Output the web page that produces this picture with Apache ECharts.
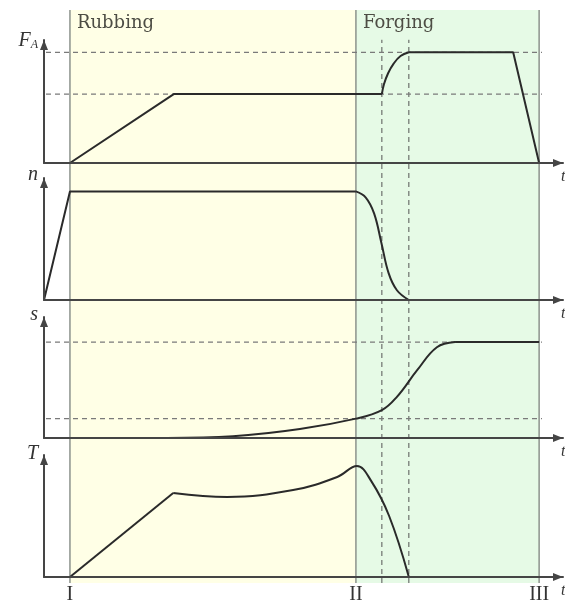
<!DOCTYPE html>
<html><head><meta charset="utf-8">
<script src="https://cdn.jsdelivr.net/npm/echarts@6/dist/echarts.min.js"></script>
<style>html,body{margin:0;padding:0;background:#fff}#c{width:565px;height:606px}</style>
</head><body><div id="c"></div>
<script>
// ---- data ----
const phaseT = [5, 60.1, 95.4];
const phaseLabels = ['I', 'II', 'III'];
const phaseNames = ['Rubbing', 'Forging'];
const markerT = [65.1, 70.3];
const markerTop = 0.948;

// each curve: points (t, value) and index ranges [from, to] drawn as smooth curves
const forceT = [5, 25, 65.1, 65.5, 66.3, 67.4, 68.7, 70.3, 90.4, 95.4];
const forceV = [0, 0.56, 0.56, 0.64, 0.73, 0.81, 0.87, 0.90, 0.90, 0];
const forceLevels = [0.56, 0.90];
const forceSmooth = [[2, 7]];

const speedT = [0, 5, 60.1, 62.0, 63.6, 65.0, 66.4, 68.0, 70.3];
const speedV = [0, 0.89, 0.89, 0.84, 0.71, 0.47, 0.22, 0.08, 0];
const speedSmooth = [[2, 8]];

const slipT = [5, 23.7, 36.4, 49.3, 60.1, 65.1, 68.0, 71.9, 75.7, 79.2, 95.4];
const slipV = [0, 0, 0.014, 0.074, 0.16, 0.23, 0.34, 0.56, 0.75, 0.793, 0.793];
const slipLevels = [0.16, 0.793];
const slipSmooth = [[1, 9]];

const tempT = [5, 24.9, 35.3, 48.0, 56.5, 60.3, 63.0, 66.5, 70.3];
const tempV = [0, 0.689, 0.656, 0.713, 0.82, 0.910, 0.79, 0.50, 0];
const tempSmooth = [[1, 8]];

const panelNames = ['{f|F}{a|A}', '{f|n}', '{f|s}', '{f|T}'];
const dashFrom = -1.35, dashTo = 95.95;

// ---- layout ----
const panels = [
  {top: 40, height: 123, gap: -1},
  {top: 178, height: 122, gap: 3},
  {top: 317, height: 121, gap: 2},
  {top: 455, height: 122, gap: 1}
];
const LEFT = 44, WIDTH = 519;
const serif = 'Liberation Serif';
const axisColor = '#454545';
const curveColor = '#2a2a2a';

const zip = (a, b) => a.map((v, i) => [v, b[i]]);

function segments(T, V, smoothRanges) {
  const pts = zip(T, V);
  const segs = [];
  let cur = 0;
  smoothRanges.forEach(([a, b]) => {
    if (a > cur) segs.push({data: pts.slice(cur, a + 1), smooth: false});
    segs.push({data: pts.slice(a, b + 1), smooth: true});
    cur = b;
  });
  if (cur < pts.length - 1) segs.push({data: pts.slice(cur), smooth: false});
  return segs;
}

const grids = panels.map(p => ({left: LEFT, width: WIDTH, top: p.top, height: p.height, outerBoundsMode: 'none', containLabel: false}));
grids.push({left: LEFT, width: WIDTH, top: 10, height: 573, outerBoundsMode: 'none', containLabel: false});

const arrowLine = {show: true, lineStyle: {color: axisColor, width: 2}, symbol: ['none', 'triangle'], symbolSize: [8, 10], symbolOffset: [0, -5]};

const xAxes = panels.map((p, i) => ({
  gridIndex: i, type: 'value', min: 0, max: 100, z: 10,
  axisLine: arrowLine,
  axisTick: {show: false},
  splitLine: {show: false},
  axisLabel: i === 3 ? {
    show: true, customValues: phaseT, margin: 8,
    formatter: v => { const k = phaseT.findIndex(t => Math.abs(t - v) < 0.01); return k >= 0 ? phaseLabels[k] : ''; },
    fontFamily: serif, fontSize: 20, color: '#333'
  } : {show: false},
  name: 't', nameLocation: 'end', nameGap: -2,
  nameTextStyle: {fontFamily: serif, fontStyle: 'italic', fontSize: 16, color: '#333', verticalAlign: 'top', padding: [6, 0, 0, 0]}
}));
xAxes.push({gridIndex: 4, type: 'value', min: 0, max: 100, show: false});

const richName = {
  f: {fontFamily: serif, fontStyle: 'italic', fontSize: 20, color: '#333'},
  a: {fontFamily: serif, fontStyle: 'italic', fontSize: 12, color: '#333', padding: [8, 0, 0, 0]}
};
const yAxes = panels.map((p, i) => ({
  gridIndex: i, type: 'value', min: 0, max: 1, z: 10,
  axisLine: arrowLine,
  axisTick: {show: false}, axisLabel: {show: false}, splitLine: {show: false},
  name: panelNames[i], nameLocation: 'end', nameGap: p.gap,
  nameTextStyle: {align: 'right', verticalAlign: 'middle', padding: [0, 6, 0, 0], rich: richName}
}));
yAxes.push({gridIndex: 4, type: 'value', min: 0, max: 1, show: false});

const series = [];
// backgrounds + solid phase lines
phaseT.forEach((t, k) => {
  const s = {
    type: 'line', xAxisIndex: 4, yAxisIndex: 4, z: 2, symbol: 'none', silent: true,
    data: [[t, 0], [t, 1]],
    lineStyle: {color: '#8c938c', width: 1.5}
  };
  if (k === 0) {
    s.markArea = {
      silent: true,
      label: {show: true, position: [7, 4], fontFamily: 'DejaVu Serif', fontSize: 18, color: '#4d4d44'},
      data: [
        [{name: phaseNames[0], xAxis: phaseT[0], itemStyle: {color: '#ffffe6'}}, {xAxis: phaseT[1]}],
        [{name: phaseNames[1], xAxis: phaseT[1], itemStyle: {color: '#e6fae6'}}, {xAxis: phaseT[2]}]
      ]
    };
  }
  series.push(s);
});
// dashed marker lines
markerT.forEach(t => series.push({
  type: 'line', xAxisIndex: 4, yAxisIndex: 4, z: 3, symbol: 'none', silent: true, clip: false,
  data: [[t, 0], [t, markerTop]],
  lineStyle: {color: '#555', width: 1, type: [5, 4]}
}));
// horizontal dashed levels
const addLevels = (idx, levels) => levels.forEach(lv => series.push({
  type: 'line', xAxisIndex: idx, yAxisIndex: idx, z: 3, symbol: 'none', silent: true, clip: false,
  data: [[dashFrom, lv], [dashTo, lv]],
  lineStyle: {color: '#7a7a7a', width: 1.2, type: [5, 4]}
}));
addLevels(0, forceLevels);
addLevels(2, slipLevels);
// curves
[[forceT, forceV, forceSmooth], [speedT, speedV, speedSmooth], [slipT, slipV, slipSmooth], [tempT, tempV, tempSmooth]]
  .forEach(([T, V, S], i) => segments(T, V, S).forEach(seg => series.push({
    type: 'line', xAxisIndex: i, yAxisIndex: i, z: 6, symbol: 'none', silent: true, clip: false,
    data: seg.data, smooth: seg.smooth ? 0.4 : false,
    lineStyle: {color: curveColor, width: 2}
  })));

const chart = echarts.init(document.getElementById('c'), null, {renderer: 'canvas'});
chart.setOption({
  animation: false,
  backgroundColor: '#ffffff',
  grid: grids, xAxis: xAxes, yAxis: yAxes, series
});
</script></body></html>
